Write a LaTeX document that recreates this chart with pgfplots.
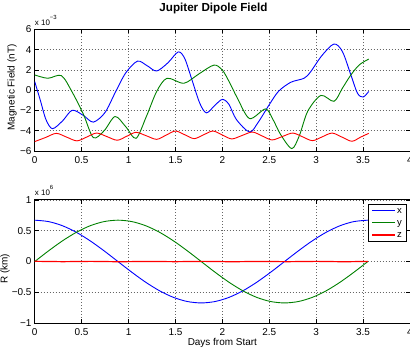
\documentclass[border=0pt]{standalone}
\usepackage{fontspec}
\setmainfont{Liberation Sans}
\usepackage{pgfplots}
\pgfplotsset{compat=1.18}

\definecolor{mblue}{rgb}{0,0,1}
\definecolor{mgreen}{rgb}{0,0.5,0}
\definecolor{mred}{rgb}{1,0,0}

\pgfplotsset{
  mstyle/.style={
    scale only axis, width=375.3bp, xmin=0, xmax=4, enlargelimits=false,
    clip mode=individual,
    axis line style={black, line width=0.9bp},
    tick align=inside, tick pos=both, major tick length=4bp,
    tick style={black, line width=0.6bp},
    xmajorgrids=true, ymajorgrids=true,
    major grid style={black!60, line width=0.5bp, dash pattern=on 0.7bp off 2.3bp},
    xtick={0,0.5,1,1.5,2,2.5,3,3.5,4},
    xticklabels={0,0.5,1,1.5,2,2.5,3,3.5,4},
    tick label style={font=\fontsize{10}{12}\selectfont},
    xticklabel style={anchor=base, inner sep=0pt, yshift=-12.3bp},
    yticklabel style={anchor=east, inner sep=0pt, xshift=-3bp},
    label style={font=\fontsize{10}{12}\selectfont},
    every axis plot/.append style={line width=0.9bp, smooth},
  }
}

\begin{document}
\begin{tikzpicture}
% ---------------- top axis ----------------
\begin{axis}[mstyle, at={(34.7bp,-151bp)}, anchor=south west, height=121.7bp,
  ymin=-6, ymax=6, ytick={-6,-4,-2,0,2,4,6}, yticklabels={−6,−4,−2,0,2,4,6},
  title={Jupiter Dipole Field},
  title style={font=\bfseries\fontsize{11.7}{14}\selectfont, at={(rel axis cs:0.4764,1)}, anchor=base, yshift=12bp, inner sep=0pt},
  ylabel={Magnetic Field (nT)},
  ylabel style={at={(rel axis cs:-0.0605,0.522)}, anchor=center}]
\addplot[mblue] coordinates {(0,0.85)(0.06,-1.0)(0.12,-2.9)(0.19,-3.8)(0.3,-3.0)(0.40,-1.98)(0.52,-2.5)(0.625,-3.15)(0.75,-2.2)(0.86,-0.2)(0.97,1.7)(1.095,2.86)(1.2,2.4)(1.30,1.89)(1.42,2.7)(1.53,3.77)(1.6,3.1)(1.68,0.9)(1.76,-1.3)(1.83,-2.24)(1.92,-1.5)(2.0,-0.91)(2.07,-1.4)(2.15,-2.9)(2.29,-4.13)(2.38,-3.2)(2.5,-1.43)(2.6,-0.1)(2.73,0.78)(2.87,1.17)(2.94,1.8)(3.06,3.4)(3.19,4.55)(3.28,3.8)(3.37,1.5)(3.44,-0.3)(3.50,-0.68)(3.56,-0.13)};
\addplot[mgreen] coordinates {(0,1.5)(0.14,1.17)(0.285,1.43)(0.4,-0.2)(0.52,-2.4)(0.625,-4.68)(0.74,-4.0)(0.857,-2.6)(0.97,-3.6)(1.08,-4.75)(1.19,-2.6)(1.30,-0.13)(1.41,1.17)(1.59,0.68)(1.75,1.6)(1.91,2.47)(2.0,1.98)(2.08,0.7)(2.16,-0.78)(2.29,-2.8)(2.46,-1.85)(2.54,-2.9)(2.62,-4.36)(2.74,-5.76)(2.82,-4.5)(2.91,-2.08)(3.05,-0.52)(3.19,-1.1)(3.28,0.2)(3.37,1.5)(3.46,2.5)(3.56,3.06)};
\addplot[mred] coordinates {(0,-5.07)(0.115,-4.67)(0.23,-4.26)(0.34,-4.63)(0.45,-5.0)(0.555,-4.62)(0.66,-4.23)(0.77,-4.58)(0.88,-4.94)(0.98,-4.55)(1.08,-4.16)(1.19,-4.5)(1.30,-4.85)(1.40,-4.44)(1.50,-4.03)(1.60,-4.4)(1.70,-4.78)(1.80,-4.4)(1.90,-4.03)(2.00,-4.42)(2.10,-4.81)(2.21,-4.47)(2.32,-4.13)(2.425,-4.52)(2.53,-4.91)(2.64,-4.57)(2.75,-4.23)(2.855,-4.6)(2.96,-4.98)(3.065,-4.6)(3.17,-4.23)(3.275,-4.63)(3.38,-5.04)(3.47,-4.65)(3.56,-4.26)};
\node[anchor=base west, inner sep=0pt, yshift=4bp, font=\fontsize{8}{9}\selectfont] at (rel axis cs:0,1) {x 10\raisebox{6bp}{\fontsize{6}{7}\selectfont −3}};
\end{axis}
% ---------------- bottom axis ----------------
\begin{axis}[mstyle, at={(34.7bp,-323.3bp)}, anchor=south west, height=123.5bp,
  ymin=-1, ymax=1, ytick={-1,-0.5,0,0.5,1}, yticklabels={−1,−0.5,0,0.5,1},
  xlabel={Days from Start},
  xlabel style={at={(rel axis cs:0.5,0)}, anchor=base, yshift=-21.7bp, inner sep=0pt},
  ylabel={R (km)},
  ylabel style={at={(rel axis cs:-0.0791,0.44)}, anchor=center},
  legend image code/.code={\draw[#1] (0bp,0bp) -- (23bp,0bp);},
  legend style={at={(rel axis cs:0.9915,0.966)}, anchor=north east, draw=black, line width=0.8bp, fill=white,
    font=\fontsize{9.5}{11}\selectfont, inner xsep=3bp, inner ysep=0.5bp,
    nodes={inner sep=1.5bp, text height=7bp, text depth=2bp}, row sep=0bp},
  legend cell align=left]
\addplot[mblue] coordinates {(0,0.67)(0.1479,0.6472)(0.2958,0.5802)(0.4438,0.4738)(0.5917,0.335)(0.7396,0.1734)(0.8875,0)(1.0354,-0.1734)(1.1833,-0.335)(1.3313,-0.4738)(1.4792,-0.5802)(1.6271,-0.6472)(1.775,-0.67)(1.9229,-0.6472)(2.0708,-0.5802)(2.2188,-0.4738)(2.3667,-0.335)(2.5146,-0.1734)(2.6625,0)(2.8104,0.1734)(2.9583,0.335)(3.1063,0.4738)(3.2542,0.5802)(3.4021,0.6472)(3.55,0.67)};
\addlegendentry{x}
\addplot[mgreen] coordinates {(0,0)(0.1479,0.1734)(0.2958,0.335)(0.4438,0.4738)(0.5917,0.5802)(0.7396,0.6472)(0.8875,0.67)(1.0354,0.6472)(1.1833,0.5802)(1.3313,0.4738)(1.4792,0.335)(1.6271,0.1734)(1.775,0)(1.9229,-0.1734)(2.0708,-0.335)(2.2188,-0.4738)(2.3667,-0.5802)(2.5146,-0.6472)(2.6625,-0.67)(2.8104,-0.6472)(2.9583,-0.5802)(3.1063,-0.4738)(3.2542,-0.335)(3.4021,-0.1734)(3.55,0)};
\addlegendentry{y}
\addplot[draw=red, line width=1.2bp, sharp plot] coordinates {(0,0.004)(0.3,-0.002)(0.6,0.003)(0.9,-0.003)(1.2,0.002)(1.5,-0.002)(1.8,0.003)(2.1,-0.003)(2.4,0.002)(2.7,-0.002)(3.0,0.003)(3.3,-0.003)(3.55,0.002)};
\addlegendentry{z}
\node[anchor=base west, inner sep=0pt, yshift=4bp, font=\fontsize{8}{9}\selectfont] at (rel axis cs:0,1) {x 10\raisebox{6bp}{\fontsize{6}{7}\selectfont 6}};
\end{axis}
\pgfresetboundingbox
\path[use as bounding box] (0,0) rectangle (410bp,-349bp);
\end{tikzpicture}
\end{document}
